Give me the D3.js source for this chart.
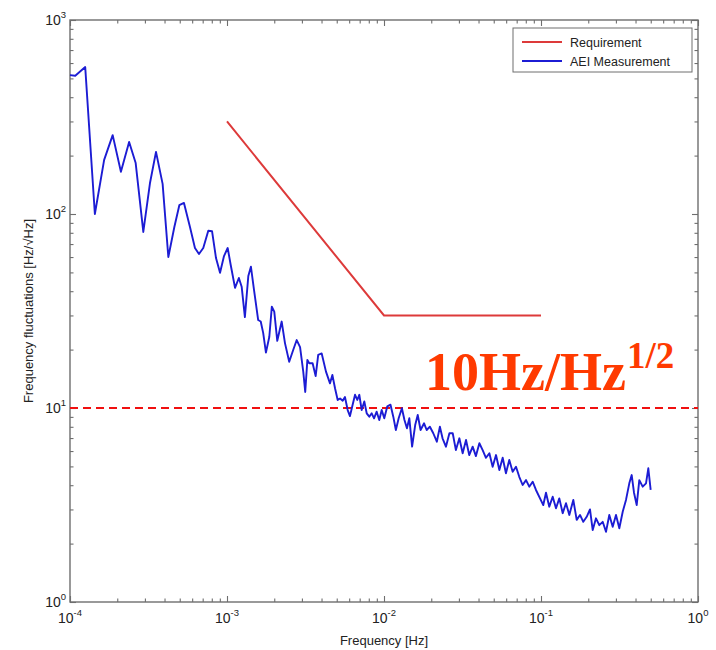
<!DOCTYPE html>
<html>
<head>
<meta charset="utf-8">
<script src="https://cdn.jsdelivr.net/npm/d3@7"></script>
<style>
  html, body { margin: 0; padding: 0; background: #fff; }
  svg { display: block; }
</style>
</head>
<body>
<svg id="chart" width="716" height="650"></svg>
<script>
// ---------- data ----------
const measFreq = [
  1.00e-4, 1.08e-4, 1.25e-4, 1.44e-4, 1.65e-4, 1.87e-4, 2.11e-4, 2.38e-4, 2.62e-4, 2.93e-4,
  3.23e-4, 3.53e-4, 3.89e-4, 4.23e-4, 4.62e-4, 4.97e-4, 5.32e-4, 5.81e-4, 6.25e-4, 6.63e-4,
  7.06e-4, 7.60e-4, 8.03e-4, 8.51e-4, 9.03e-4, 9.57e-4, 1.01e-3, 1.056e-3, 1.125e-3, 1.19e-3,
  1.24e-3, 1.30e-3, 1.367e-3, 1.42e-3, 1.486e-3, 1.58e-3, 1.64e-3, 1.70e-3, 1.77e-3, 1.86e-3,
  1.93e-3, 2.00e-3, 2.09e-3, 2.23e-3, 2.34e-3, 2.49e-3, 2.64e-3, 2.78e-3, 2.92e-3, 3.06e-3,
  3.15e-3, 3.25e-3, 3.34e-3, 3.51e-3, 3.67e-3, 3.81e-3, 4.01e-3, 4.27e-3, 4.53e-3, 4.69e-3,
  4.88e-3, 5.07e-3, 5.25e-3, 5.46e-3, 5.64e-3, 5.87e-3, 6.07e-3, 6.28e-3, 6.54e-3, 6.76e-3,
  6.96e-3, 7.21e-3, 7.49e-3, 7.76e-3, 8.06e-3, 8.35e-3, 8.64e-3, 8.98e-3, 9.33e-3, 9.67e-3,
  1.004e-2, 1.05e-2, 1.10e-2, 1.146e-2, 1.19e-2, 1.24e-2, 1.30e-2, 1.35e-2, 1.40e-2, 1.45e-2,
  1.51e-2, 1.58e-2, 1.64e-2, 1.71e-2, 1.80e-2, 1.87e-2, 1.96e-2, 2.06e-2, 2.17e-2, 2.27e-2,
  2.36e-2, 2.48e-2, 2.61e-2, 2.74e-2, 2.87e-2, 3.02e-2, 3.17e-2, 3.33e-2, 3.49e-2, 3.67e-2,
  3.85e-2, 4.05e-2, 4.25e-2, 4.46e-2, 4.69e-2, 4.92e-2, 5.17e-2, 5.43e-2, 5.70e-2, 5.98e-2,
  6.28e-2, 6.60e-2, 6.93e-2, 7.27e-2, 7.64e-2, 8.03e-2, 8.42e-2, 8.85e-2, 9.29e-2,
  0.1034, 0.1076, 0.1129, 0.1187, 0.1246, 0.1308, 0.1375, 0.1443, 0.1515, 0.1606,
  0.1688, 0.1772, 0.1859, 0.1955, 0.2051, 0.2135, 0.2240, 0.2351, 0.2472, 0.2594,
  0.2723, 0.2862, 0.3004, 0.3154, 0.3315, 0.3478, 0.3651, 0.3782, 0.3912, 0.4070,
  0.4228, 0.4444, 0.4665, 0.4825, 0.4995
];
const measValue = [
  520, 516, 572, 100, 190, 255, 165, 235, 183, 80.8,
  144, 209, 143, 60.0, 85.7, 111, 114, 85.7, 66.8, 62.2,
  66.8, 82.0, 81.5, 59.3, 49.8, 60.7, 66.8, 54.6, 41.6, 46.8,
  42.2, 29.4, 47.9, 53.5, 40.6, 28.4, 27.9, 24.4, 19.3, 23.3,
  33.3, 31.4, 22.2, 27.9, 21.6, 17.3, 19.9, 22.4, 20.6, 15.4,
  12.1, 17.7, 17.0, 17.0, 14.6, 18.8, 19.1, 15.4, 13.4, 14.8,
  12.6, 11.0, 11.2, 10.9, 11.4, 9.76, 9.09, 10.2, 11.7, 11.0,
  11.7, 9.76, 10.8, 9.39, 9.02, 9.39, 8.85, 9.57, 8.67, 9.76,
  8.85, 10.2, 10.4, 9.02, 7.70, 8.85, 9.97, 8.67, 7.86, 8.85,
  6.32, 8.17, 9.20, 7.70, 8.34, 7.70, 8.01, 7.41, 6.70, 8.01,
  6.98, 6.32, 7.41, 7.41, 6.07, 6.98, 5.84, 6.84, 5.72, 6.32,
  5.65, 6.58, 6.07, 5.54, 5.84, 4.98, 5.72, 4.79, 5.54, 4.61,
  5.40, 4.69, 4.98, 4.42, 4.01, 4.25, 3.93, 4.17, 3.78,
  3.16, 3.66, 3.10, 3.49, 3.04, 3.42, 2.87, 3.23, 2.81, 3.36,
  2.65, 2.81, 2.59, 2.75, 3.00, 2.35, 2.70, 2.49, 2.59, 2.30,
  2.81, 2.44, 2.81, 2.40, 2.92, 3.36, 4.09, 4.51, 3.66, 3.16,
  4.25, 3.93, 4.09, 4.89, 3.78
];
const reqFreq = [1e-3, 1e-2, 1e-1];
const reqValue = [300, 30, 30];
const thresholdValue = 10;
const xMajorTicks = [1e-4, 1e-3, 1e-2, 1e-1, 1];
const xTickExponents = ["-4", "-3", "-2", "-1", "0"];
const yMajorTicks = [1, 10, 100, 1000];
const yTickExponents = ["0", "1", "2", "3"];
const seriesNames = ["Requirement", "AEI Measurement"];
const annotationMain = "10Hz/Hz";
const annotationSup = "1/2";
const xLabel = "Frequency [Hz]";
const yLabel = "Frequency fluctuations [Hz/\u221AHz]";

// ---------- layout ----------
const L = 70, R = 698, T = 20, B = 602;
const svg = d3.select("#chart");
const x = d3.scaleLog().domain([1e-4, 1]).range([L, R]);
const y = d3.scaleLog().domain([1, 1000]).range([B, T]);

const minorOf = (majors) => {
  const out = [];
  for (let i = 0; i < majors.length - 1; i++)
    for (let k = 2; k <= 9; k++) out.push(majors[i] * k);
  return out;
};
const xMinor = minorOf(xMajorTicks);
const yMinor = minorOf(yMajorTicks);
const axisColor = "#6e6e6e";
const font = "'Liberation Sans', Arial, sans-serif";

// frame
svg.append("rect").attr("x", L).attr("y", T).attr("width", R - L).attr("height", B - T)
  .attr("fill", "#fff").attr("stroke", axisColor).attr("stroke-width", 1.4);

function styleAxis(g) {
  g.select(".domain").remove();
  g.selectAll(".tick line").attr("stroke", axisColor).attr("stroke-width", 1.1);
}
[[d3.axisBottom, B], [d3.axisTop, T]].forEach(([fn, pos]) => {
  svg.append("g").attr("transform", `translate(0,${pos})`)
    .call(fn(x).tickValues(xMinor).tickSize(-3.5).tickFormat(""))
    .call(styleAxis);
  svg.append("g").attr("transform", `translate(0,${pos})`)
    .call(fn(x).tickValues(xMajorTicks).tickSize(-6).tickFormat(""))
    .call(styleAxis);
});
[[d3.axisLeft, L], [d3.axisRight, R]].forEach(([fn, pos]) => {
  svg.append("g").attr("transform", `translate(${pos},0)`)
    .call(fn(y).tickValues(yMinor).tickSize(-3.5).tickFormat(""))
    .call(styleAxis);
  svg.append("g").attr("transform", `translate(${pos},0)`)
    .call(fn(y).tickValues(yMajorTicks).tickSize(-6).tickFormat(""))
    .call(styleAxis);
});

// tick labels
xMajorTicks.forEach((v, i) => {
  const t = svg.append("text").attr("x", x(v)).attr("y", B + 21)
    .attr("text-anchor", "middle").attr("font-family", font).attr("font-size", 14)
    .attr("fill", "#222");
  t.append("tspan").text("10");
  t.append("tspan").attr("dy", -7).attr("font-size", 9.5).text(xTickExponents[i]);
});
yMajorTicks.forEach((v, i) => {
  const t = svg.append("text").attr("x", L - 4).attr("y", y(v) + 5)
    .attr("text-anchor", "end").attr("font-family", font).attr("font-size", 14)
    .attr("fill", "#222");
  t.append("tspan").text("10");
  t.append("tspan").attr("dy", -7).attr("font-size", 9.5).text(yTickExponents[i]);
});

// axis labels
svg.append("text").attr("x", (L + R) / 2).attr("y", 645).attr("text-anchor", "middle")
  .attr("font-family", font).attr("font-size", 13).attr("fill", "#222").text(xLabel);
svg.append("text").attr("transform", `translate(33,${(T + B) / 2}) rotate(-90)`)
  .attr("text-anchor", "middle").attr("font-family", font).attr("font-size", 13)
  .attr("fill", "#222").text(yLabel);

// threshold dashed line
svg.append("line").attr("x1", L).attr("x2", R).attr("y1", y(thresholdValue)).attr("y2", y(thresholdValue))
  .attr("stroke", "#f01010").attr("stroke-width", 2).attr("stroke-dasharray", "8,5");

// lines
const line = d3.line().x(d => x(d[0])).y(d => y(d[1]));
svg.append("path").datum(d3.zip(reqFreq, reqValue)).attr("d", line)
  .attr("fill", "none").attr("stroke", "#dd3a3a").attr("stroke-width", 2);
svg.append("path").datum(d3.zip(measFreq, measValue)).attr("d", line)
  .attr("fill", "none").attr("stroke", "#1c1cd4").attr("stroke-width", 1.9)
  .attr("stroke-linejoin", "round");

// annotation
const ann = svg.append("text").attr("x", 425).attr("y", 390)
  .attr("font-family", "'Liberation Serif', 'Times New Roman', serif")
  .attr("font-weight", "bold").attr("font-size", 54).attr("fill", "#ff3a00");
ann.append("tspan").text(annotationMain);
ann.append("tspan").attr("dx", 1).attr("dy", -22).attr("font-size", 37).text(annotationSup);

// legend
const lg = svg.append("g");
lg.append("rect").attr("x", 513).attr("y", 28).attr("width", 179).attr("height", 44)
  .attr("fill", "#fff").attr("stroke", axisColor).attr("stroke-width", 1);
const legColors = ["#dd3a3a", "#1c1cd4"];
seriesNames.forEach((n, i) => {
  const yy = 42 + i * 19;
  lg.append("line").attr("x1", 522).attr("x2", 562).attr("y1", yy).attr("y2", yy)
    .attr("stroke", legColors[i]).attr("stroke-width", 1.8);
  lg.append("text").attr("x", 570).attr("y", yy + 4.5).attr("font-family", font)
    .attr("font-size", 12.5).attr("fill", "#222").text(n);
});
</script>
</body>
</html>
